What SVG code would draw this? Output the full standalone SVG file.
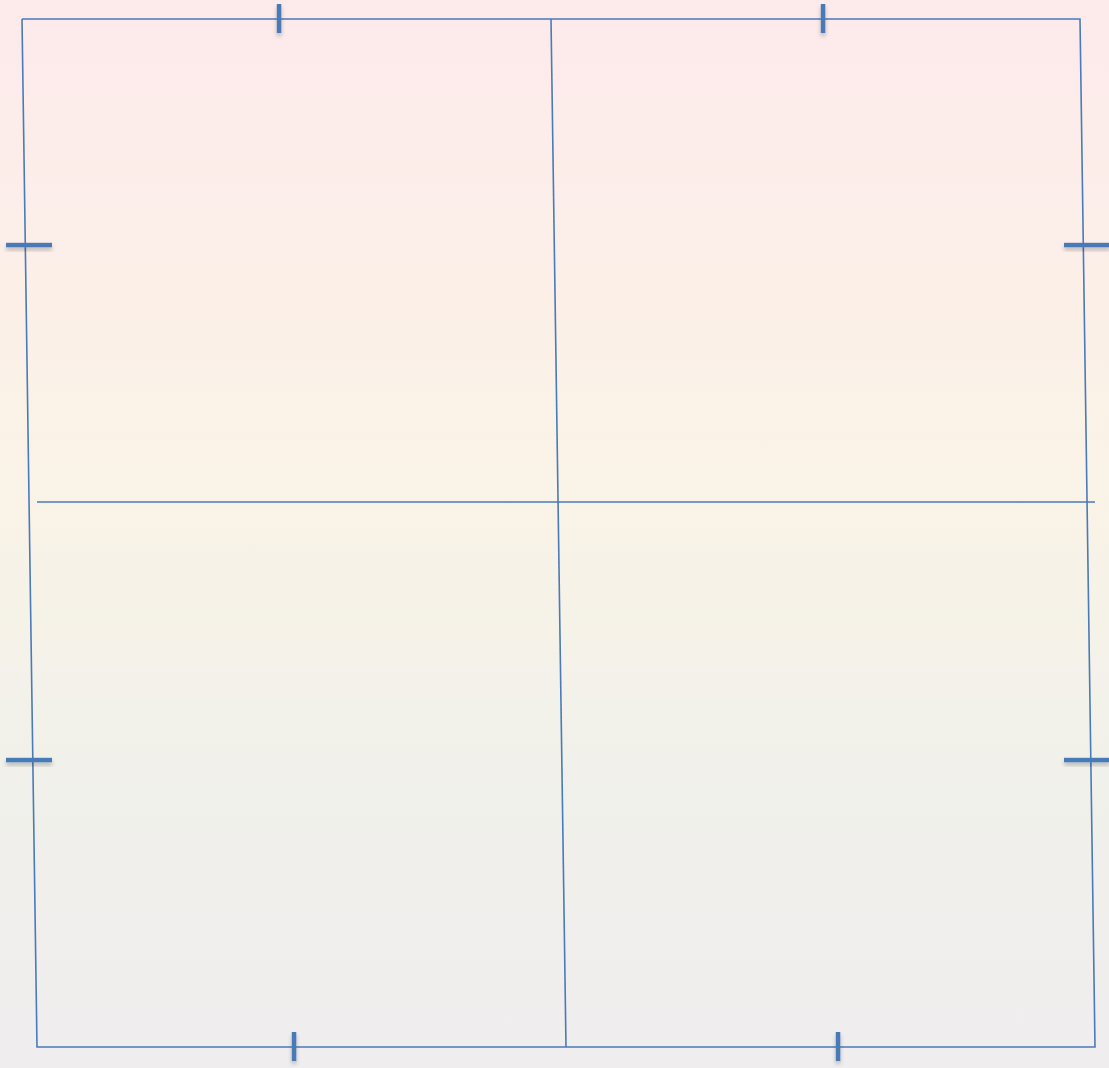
<svg xmlns="http://www.w3.org/2000/svg" width="1109" height="1068" viewBox="0 0 1109 1068">
  <defs>
    <linearGradient id="bg" x1="0" y1="0" x2="0" y2="1">
      <stop offset="0" stop-color="#fdeaeb"/>
      <stop offset="0.45" stop-color="#faf3e7"/>
      <stop offset="0.7" stop-color="#f1f1ea"/>
      <stop offset="1" stop-color="#efedee"/>
    </linearGradient>
    <filter id="sh" x="-100%" y="-100%" width="300%" height="300%">
      <feGaussianBlur in="SourceAlpha" stdDeviation="2"/>
      <feOffset dx="0" dy="3"/>
      <feComponentTransfer><feFuncA type="linear" slope="0.25"/></feComponentTransfer>
      <feMerge><feMergeNode/><feMergeNode in="SourceGraphic"/></feMerge>
    </filter>
    <style>
      .ln { stroke: #4a7ab8; stroke-width: 1.6; fill: none; }
      .tk { fill: #4a7ab8; stroke: none; filter: url(#sh); }
    </style>
  </defs>
  <rect x="0" y="0" width="1109" height="1068" fill="url(#bg)"/>
  <g id="frame">
    <polyline class="ln" points="22,19 1080,19 1095,1047 37,1047 22,19"/>
    <line class="ln" x1="551" y1="19" x2="566" y2="1047"/>
    <line class="ln" x1="37" y1="502" x2="1095" y2="502"/>
  </g>
  <g id="ticks">
    <rect class="tk" x="276.8" y="4" width="4.5" height="29"/>
    <rect class="tk" x="820.8" y="4" width="4.5" height="29"/>
    <rect class="tk" x="291.8" y="1032" width="4.5" height="29"/>
    <rect class="tk" x="835.8" y="1032" width="4.5" height="29"/>
    <rect class="tk" x="6" y="242.8" width="46" height="4.5"/>
    <rect class="tk" x="6" y="757.8" width="46" height="4.5"/>
    <rect class="tk" x="1064" y="242.8" width="46" height="4.5"/>
    <rect class="tk" x="1064" y="757.8" width="46" height="4.5"/>
  </g>
</svg>
